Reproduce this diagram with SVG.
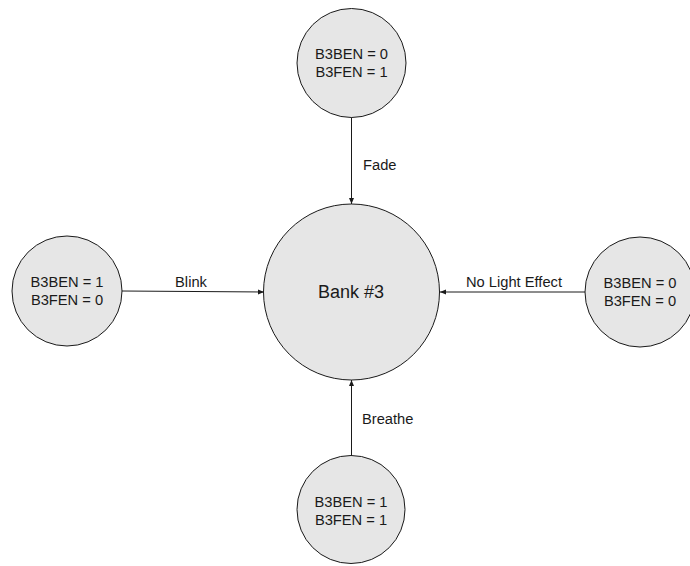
<svg xmlns="http://www.w3.org/2000/svg" width="690" height="566" viewBox="0 0 690 566">
<style>
.node{fill:#e6e6e6;stroke:#1a1a1a;stroke-width:1}
.t{font-family:"Liberation Sans",Arial,sans-serif;font-size:14.7px;fill:#1a1a1a;text-anchor:middle}
.big{font-size:18px}
.lbl{font-family:"Liberation Sans",Arial,sans-serif;font-size:14.7px;fill:#1a1a1a}
.edge{stroke:#1a1a1a;stroke-width:1;fill:none;marker-end:url(#ah)}
</style>
<defs>
<marker id="ah" viewBox="0 0 6 6" refX="6" refY="3" markerWidth="6" markerHeight="6" markerUnits="userSpaceOnUse" orient="auto">
<path d="M0,0.5 L6,3 L0,5.5 Z" fill="#1a1a1a"/>
</marker>
</defs>
<rect width="690" height="566" fill="#ffffff"/>
<g id="connectors">
<line class="edge" x1="351.5" y1="117" x2="351.5" y2="204"/>
<line class="edge" x1="122" y1="291" x2="264" y2="292"/>
<line class="edge" x1="585" y1="292" x2="440" y2="292"/>
<line class="edge" x1="351.5" y1="456" x2="351.5" y2="380"/>
<text class="lbl" x="363" y="170">Fade</text>
<text class="lbl" x="191" y="287" text-anchor="middle">Blink</text>
<text class="lbl" x="514" y="287" text-anchor="middle">No Light Effect</text>
<text class="lbl" x="362" y="424">Breathe</text>
</g>
<g id="bank3">
<circle class="node" cx="351.5" cy="292" r="88"/>
<text class="t big" x="351" y="298">Bank #3</text>
</g>
<g id="fade">
<circle class="node" cx="351.5" cy="63" r="54.5"/>
<text class="t" x="351.5" y="59">B3BEN = 0</text>
<text class="t" x="351.5" y="77">B3FEN = 1</text>
</g>
<g id="blink">
<circle class="node" cx="67" cy="291" r="55"/>
<text class="t" x="67" y="287">B3BEN = 1</text>
<text class="t" x="67" y="305">B3FEN = 0</text>
</g>
<g id="nolight">
<circle class="node" cx="640" cy="292" r="55"/>
<text class="t" x="640" y="288">B3BEN = 0</text>
<text class="t" x="640" y="306">B3FEN = 0</text>
</g>
<g id="breathe">
<circle class="node" cx="351" cy="509.5" r="54"/>
<text class="t" x="351" y="507">B3BEN = 1</text>
<text class="t" x="351" y="525">B3FEN = 1</text>
</g>
</svg>
